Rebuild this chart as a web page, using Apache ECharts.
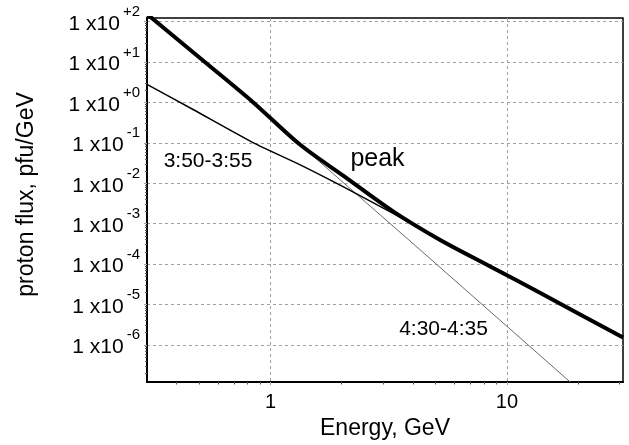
<!DOCTYPE html>
<html><head><meta charset="utf-8">
<script src="https://cdn.jsdelivr.net/npm/echarts@6/dist/echarts.min.js"></script>
<style>html,body{margin:0;padding:0;background:#fff}#c{width:629px;height:445px}</style>
</head><body><div id="c"></div>
<script>
// Data (energy in GeV, flux in pfu/GeV)
const energyPeak = [0.3, 0.527, 0.845, 1.335, 2.036, 3.31, 5.22, 8.5, 13.8, 31];
const fluxPeak   = [154, 10, 1, 0.0893, 0.0152, 1.98e-3, 3.94e-4, 8.7e-5, 1.94e-5, 1.51e-6];
const energyEarly = [0.3, 0.472, 0.847, 1.335, 2.036, 3.21, 5.22, 8.5, 13.8, 31];
const fluxEarly   = [2.8, 0.659, 0.1, 0.0285, 8.1e-3, 1.95e-3, 4.1e-4, 9.1e-5, 2.0e-5, 1.6e-6];
const energyLate = [0.3, 0.527, 0.845, 1.335, 1.971, 4.30, 18.5];
const fluxLate   = [154, 10, 1, 0.0893, 0.0121, 2.23e-4, 1.21e-7];

const seriesNames = ['peak', '3:50-3:55', '4:30-4:35'];
const xTickValues = [1, 10];
const xTickLabels = ['1', '10'];
const yTickValues = [1e-6, 1e-5, 1e-4, 1e-3, 1e-2, 1e-1, 1e0, 1e1, 1e2];
const yTickExponents = ['-6', '-5', '-4', '-3', '-2', '-1', '+0', '+1', '+2'];
const xMinorTicks = [0.4, 0.5, 0.6, 0.7, 0.8, 0.9, 2, 3, 4, 5, 6, 7, 8, 9, 20, 30];
const yMinorTicks = [];
for (let k = -7; k <= 2; k++) for (let m = 2; m <= 9; m++) yMinorTicks.push(+(m + 'e' + k));

const FONT = '"Liberation Sans", Arial, sans-serif';
const X_MIN = 0.3, X_MAX = 31, Y_MIN = 1.2e-7, Y_MAX = 123;

function pairs(xs, ys) { return xs.map((x, i) => [x, ys[i]]); }
function idxOf(list, v) { return list.findIndex(t => Math.abs(Math.log10(t) - Math.log10(v)) < 1e-6); }

const chart = echarts.init(document.getElementById('c'), null, {renderer: 'canvas'});
const gridLine = {show: true, lineStyle: {color: '#a0a0a0', width: 1, type: [3, 3]}};

chart.setOption({
  animation: false,
  backgroundColor: '#ffffff',
  grid: {left: 147, right: 6, top: 18, bottom: 63, show: true, borderColor: '#000', borderWidth: 1.5, backgroundColor: 'transparent'},
  xAxis: [{
    type: 'log', logBase: 10, min: X_MIN, max: X_MAX, position: 'bottom',
    name: 'Energy, GeV', nameLocation: 'middle', nameGap: 33,
    nameTextStyle: {fontFamily: FONT, fontSize: 23, color: '#000'},
    axisLine: {show: true, lineStyle: {color: '#000', width: 2}},
    axisTick: {show: true, length: 6, customValues: xTickValues, lineStyle: {color: '#a0a0a0', type: [3, 3]}},
    axisLabel: {show: true, customValues: xTickValues, margin: 10, fontFamily: FONT, fontSize: 20, color: '#000',
      formatter: v => { const i = idxOf(xTickValues, v); return i >= 0 ? xTickLabels[i] : ''; }},
    splitLine: gridLine, minorTick: {show: false}, minorSplitLine: {show: false}
  }, {
    type: 'log', logBase: 10, min: X_MIN, max: X_MAX, position: 'bottom',
    axisLine: {show: false}, axisLabel: {show: false}, splitLine: {show: false},
    axisTick: {show: true, length: 2.5, customValues: xMinorTicks, lineStyle: {color: '#555', width: 1}}
  }],
  yAxis: [{
    type: 'log', logBase: 10, min: Y_MIN, max: Y_MAX, position: 'left',
    name: 'proton flux, pfu/GeV', nameLocation: 'middle', nameGap: 109,
    nameTextStyle: {fontFamily: FONT, fontSize: 23, color: '#000', padding: [0, 0, 0, 11]},
    axisLine: {show: true, lineStyle: {color: '#000', width: 2}},
    axisTick: {show: true, length: 4, customValues: yTickValues, lineStyle: {color: '#a0a0a0', type: [3, 3]}},
    axisLabel: {show: true, customValues: yTickValues, margin: 7, padding: [5, 0, 0, 0],
      formatter: v => { const i = idxOf(yTickValues, v); return i >= 0 ? '{a|1 x10}{s|' + yTickExponents[i] + '}' : ''; },
      rich: {
        a: {fontFamily: FONT, fontSize: 21, color: '#000', lineHeight: 21, verticalAlign: 'middle'},
        s: {fontFamily: FONT, fontSize: 15, color: '#000', lineHeight: 15, verticalAlign: 'middle', padding: [0, 0, 24, 3]}
      }},
    splitLine: gridLine
  }, {
    type: 'log', logBase: 10, min: Y_MIN, max: Y_MAX, position: 'left',
    axisLine: {show: false}, axisLabel: {show: false}, splitLine: {show: false},
    axisTick: {show: true, length: 2, customValues: yMinorTicks, lineStyle: {color: '#555', width: 1}}
  }],
  series: [
    {name: seriesNames[2], type: 'line', data: pairs(energyLate, fluxLate), xAxisIndex: 0, yAxisIndex: 0,
     showSymbol: false, symbol: 'none', clip: true, lineStyle: {color: '#6a6a6a', width: 1}, z: 2},
    {name: seriesNames[1], type: 'line', data: pairs(energyEarly, fluxEarly), xAxisIndex: 0, yAxisIndex: 0,
     showSymbol: false, symbol: 'none', clip: true, smooth: 0.2, lineStyle: {color: '#000', width: 1.5}, z: 3},
    {name: seriesNames[0], type: 'line', data: pairs(energyPeak, fluxPeak), xAxisIndex: 0, yAxisIndex: 0,
     showSymbol: false, symbol: 'none', clip: true, smooth: 0.3, lineStyle: {color: '#000', width: 4}, z: 4}
  ],
  graphic: [
    {type: 'text', x: 377.5, y: 159, style: {text: 'peak', fontFamily: FONT, fontSize: 25, fill: '#000', align: 'center', verticalAlign: 'middle'}},
    {type: 'text', x: 208, y: 161.5, style: {text: '3:50-3:55', fontFamily: FONT, fontSize: 21, fill: '#000', align: 'center', verticalAlign: 'middle'}},
    {type: 'text', x: 443.5, y: 329.5, style: {text: '4:30-4:35', fontFamily: FONT, fontSize: 21, fill: '#000', align: 'center', verticalAlign: 'middle'}}
  ]
});
</script></body></html>
